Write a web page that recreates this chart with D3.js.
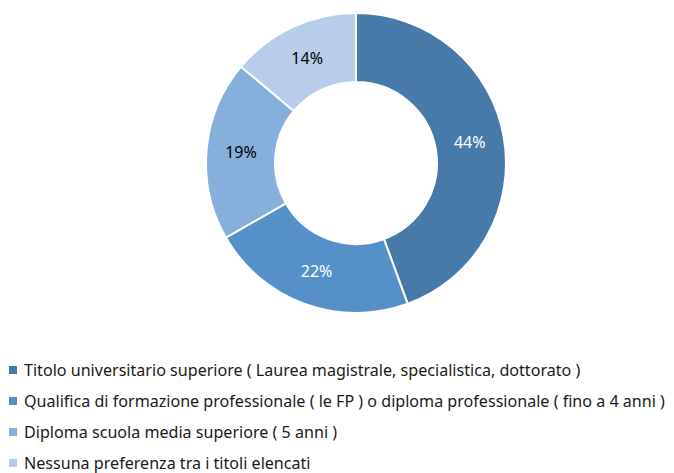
<!DOCTYPE html>
<html>
<head>
<meta charset="utf-8">
<script src="https://cdn.jsdelivr.net/npm/d3@7"></script>
<style>
  body { margin: 0; background: #fff; }
  text { font-family: "Noto Sans", sans-serif; }
</style>
</head>
<body>
<svg id="chart" width="674" height="473"></svg>
<script>
const categories = [
    "Titolo universitario superiore ( Laurea magistrale, specialistica, dottorato )",
    "Qualifica di formazione professionale ( le FP ) o diploma professionale ( fino a 4 anni )",
    "Diploma scuola media superiore ( 5 anni )",
    "Nessuna preferenza tra i titoli elencati"
];
const values = [44.4, 22.3, 19.4, 13.9];
const colors = ["#4779a9", "#5591c8", "#86afdc", "#b8cde9"];
const labelColors = ["#ffffff", "#ffffff", "#000000", "#000000"];

const svg = d3.select("#chart");

const cx = 356, cy = 163, outerR = 150, innerR = 81;

const data = categories.map((c, i) => ({ cat: c, value: values[i], i }));

const pie = d3.pie().value(d => d.value).sort(null);
const arc = d3.arc().innerRadius(innerR).outerRadius(outerR);
const labelArc = d3.arc().innerRadius((innerR + outerR) / 2).outerRadius((innerR + outerR) / 2);

const g = svg.append("g").attr("transform", `translate(${cx}, ${cy})`);

const arcs = pie(data);

g.selectAll("path")
    .data(arcs)
    .enter()
    .append("path")
    .attr("d", arc)
    .attr("fill", d => colors[d.data.i])
    .attr("stroke", "#fff")
    .attr("stroke-width", 2);

g.selectAll("text")
    .data(arcs)
    .enter()
    .append("text")
    .attr("transform", d => `translate(${labelArc.centroid(d)})`)
    .attr("text-anchor", "middle")
    .attr("dy", "0.35em")
    .attr("font-size", 16)
    .attr("fill", d => labelColors[d.data.i])
    .text(d => `${Math.round(d.data.value)}%`);

// legend
const legend = svg.append("g").attr("transform", "translate(9, 370)");

const rows = legend.selectAll("g")
    .data(data)
    .enter()
    .append("g")
    .attr("transform", (d, i) => `translate(0, ${i * 31})`);

rows.append("rect")
    .attr("x", 0)
    .attr("y", -4)
    .attr("width", 8)
    .attr("height", 8)
    .attr("fill", d => colors[d.i]);

rows.append("text")
    .attr("x", 15)
    .attr("dy", "0.35em")
    .attr("font-size", 16.1)
    .attr("fill", "#1a1a1a")
    .text(d => d.cat);
</script>
</body>
</html>
